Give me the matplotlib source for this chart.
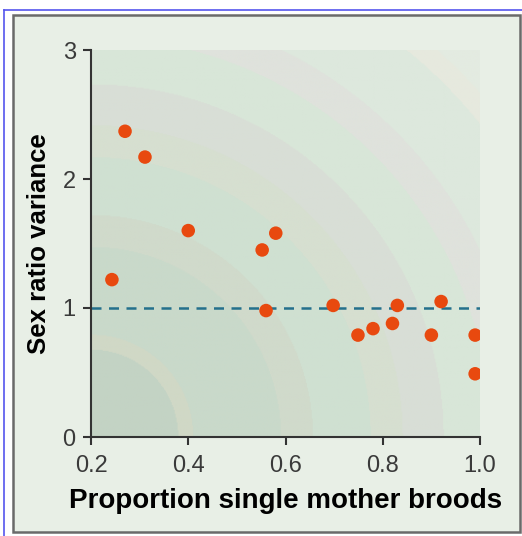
import numpy as np
import matplotlib.pyplot as plt
from matplotlib.patches import Rectangle

# Data points
prop_single = [0.243, 0.27, 0.311, 0.40, 0.552, 0.58, 0.56, 0.698, 0.749, 0.78,
               0.82, 0.83, 0.92, 0.90, 0.99, 0.99]
sex_ratio_var = [1.22, 2.37, 2.17, 1.60, 1.45, 1.58, 0.98, 1.02, 0.79, 0.84,
                 0.88, 1.02, 1.05, 0.79, 0.79, 0.49]

x_ticks = [0.2, 0.4, 0.6, 0.8, 1.0]
x_ticklabels = ['0.2', '0.4', '0.6', '0.8', '1.0']
y_ticks = [0, 1, 2, 3]

# Background rings (radius in pixels from lower-left corner, colour)
ring_edges = [0, 87, 102, 190, 222, 280, 312, 353, 400, 432, 500, 520, 2000]
ring_colors = ['#c3d3c4', '#d0d8c6', '#c9d9ca', '#d0dacb', '#cfe0d1', '#d6dfd0',
               '#d8ded6', '#d8e6d8', '#dfe2dc', '#dde8dd', '#e6e9de', '#e3ebe1']

plt.rcParams['font.family'] = ['Liberation Sans', 'DejaVu Sans']

fig = plt.figure(figsize=(5.22, 5.36), dpi=100)
fig.patch.set_facecolor('white')

# outer blue edge and grey panel frame (behind the axes)
fig.add_artist(plt.Line2D([4 / 522, 4 / 522], [0, 1 - 10 / 536], color='#5555ee',
                          lw=1.2, transform=fig.transFigure, zorder=-10))
fig.add_artist(plt.Line2D([4 / 522, 1], [1 - 10 / 536, 1 - 10 / 536], color='#5555ee',
                          lw=1.2, transform=fig.transFigure, zorder=-10))
fig.add_artist(Rectangle((13 / 522, 1 - 532 / 536), 507 / 522, 517 / 536,
                         transform=fig.transFigure, facecolor='#e8efe6',
                         edgecolor='#6a6a6a', lw=1.8, zorder=-10))

ax = fig.add_axes([91 / 522, 99 / 536, 389 / 522, 387 / 536])
ax.set_facecolor('none')

# radial background
gx, gy = np.meshgrid(np.linspace(0.2, 1.0, 400), np.linspace(0, 3, 400))
r = np.hypot((gx - 0.2) / 0.8 * 389, gy / 3 * 387)
idx = np.digitize(r, ring_edges) - 1
rgb = np.array([[int(c[i:i + 2], 16) / 255 for i in (1, 3, 5)] for c in ring_colors])
ax.imshow(rgb[idx], extent=[0.2, 1.0, 0, 3], origin='lower', aspect='auto',
          interpolation='bilinear', zorder=0)

ax.plot([0.2, 1.0], [1, 1], linestyle=(0, (4, 3)), color='#24708c', lw=1.8, zorder=2)
ax.scatter(prop_single, sex_ratio_var, s=95, color='#e8490f', edgecolor='none', zorder=3)

ax.set_xlim(0.2, 1.0)
ax.set_ylim(0, 3)
for side in ['top', 'right']:
    ax.spines[side].set_visible(False)
for side in ['left', 'bottom']:
    ax.spines[side].set_color('#333333')
    ax.spines[side].set_linewidth(1.5)

ax.set_xticks(x_ticks)
ax.set_xticklabels(x_ticklabels)
ax.set_yticks(y_ticks)
ax.tick_params(axis='both', direction='out', length=6, width=1.5, color='#333333',
               labelsize=17, labelcolor='#3a3a3a')
ax.tick_params(axis='x', pad=7)
ax.tick_params(axis='y', pad=5)

ax.set_xlabel('Proportion single mother broods', fontsize=20, fontweight='bold',
              labelpad=8)
ax.set_ylabel('Sex ratio variance', fontsize=18.5, fontweight='bold', labelpad=8)

fig.savefig('out.png', dpi=100)
